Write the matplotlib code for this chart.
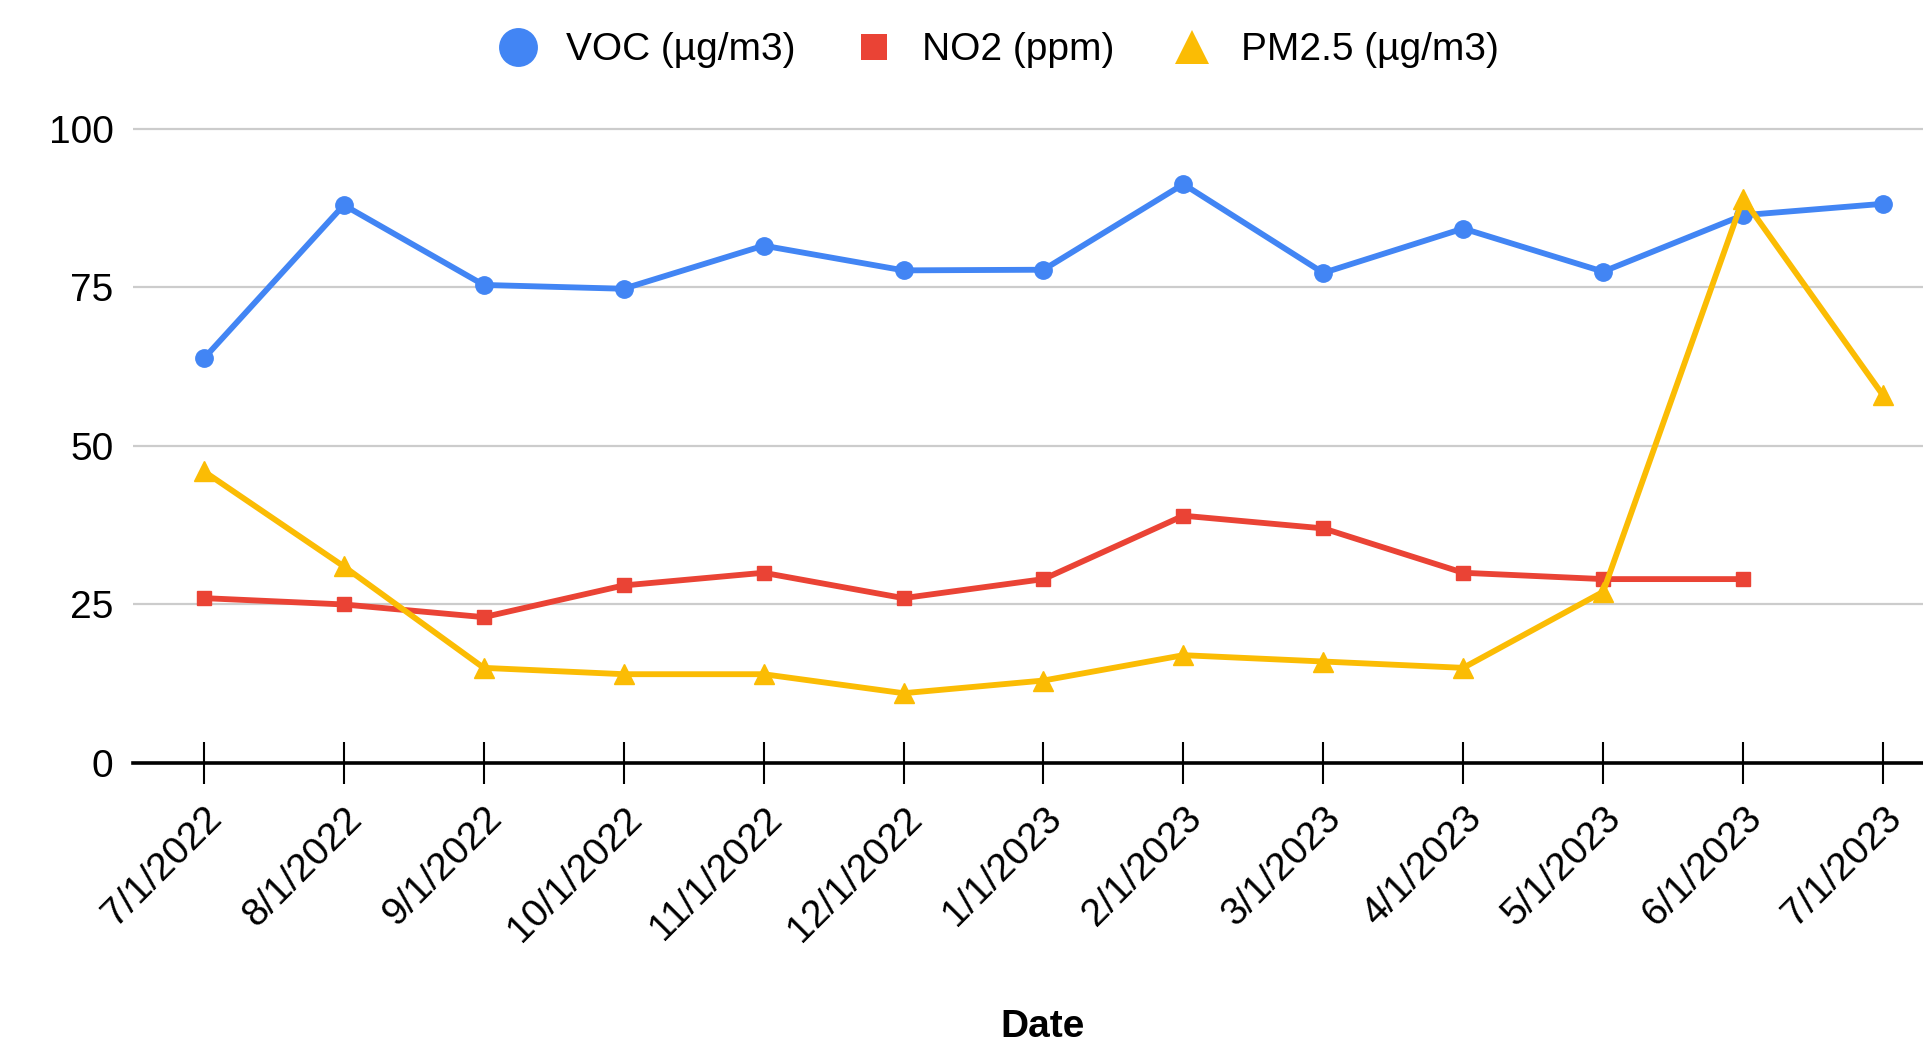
import numpy as np
import matplotlib
matplotlib.use("Agg")
import matplotlib.pyplot as plt
from matplotlib.lines import Line2D

plt.rcParams["font.family"] = ["Liberation Sans", "DejaVu Sans"]

# Datos
fechas = ["7/1/2022", "8/1/2022", "9/1/2022", "10/1/2022", "11/1/2022", "12/1/2022",
          "1/1/2023", "2/1/2023", "3/1/2023", "4/1/2023", "5/1/2023", "6/1/2023", "7/1/2023"]
voc = [63.8, 88.0, 75.4, 74.8, 81.6, 77.7, 77.8, 91.3, 77.3, 84.3, 77.5, 86.4, 88.2]
no2 = [26, 25, 23, 28, 30, 26, 29, 39, 37, 30, 29, 29, np.nan]
pm25 = [46, 31, 15, 14, 14, 11, 13, 17, 16, 15, 27, 89, 58]

series = [
    ("VOC (µg/m3)", voc, "#4285F4", "o", 12.5, 28),
    ("NO2 (ppm)", no2, "#EA4335", "s", 10.5, 19),
    ("PM2.5 (µg/m3)", pm25, "#FBBC04", "^", 14, 24),
]

fig = plt.figure(figsize=(19.24, 10.46), dpi=100)
ax = fig.add_axes([0.0691, 0.2706, 0.9309, 0.6182])

x = np.arange(len(fechas))
for nombre, valores, color, marcador, ms, _ in series:
    ax.plot(x, valores, color=color, marker=marcador, markersize=ms,
            linewidth=4.2, clip_on=False, zorder=3)

ax.set_xlim(-0.507, 12.293)
ax.set_ylim(0, 102)
ax.set_yticks([0, 25, 50, 75, 100])
ax.set_yticklabels(["0", "25", "50", "75", "100"])
for yv in [25, 50, 75, 100]:
    ax.axhline(yv, color="#cccccc", linewidth=1.6, zorder=1)

ax.set_xticks(x)
ax.set_xticklabels(fechas, rotation=45, ha="right", va="top", rotation_mode="anchor")

for lado in ["top", "right", "left"]:
    ax.spines[lado].set_visible(False)
ax.spines["bottom"].set_linewidth(2.6)
ax.spines["bottom"].set_color("black")
ax.spines["bottom"].set_zorder(2)

ax.tick_params(axis="y", length=0, pad=14, labelsize=28)
ax.tick_params(axis="x", direction="inout", length=30, width=1.5, pad=12, labelsize=28)

fig.text(0.542, 0.018, "Date", fontsize=28, fontweight="bold", ha="center", va="center")

handles = [Line2D([], [], linestyle="none", marker=m, markersize=lm, color=c,
                  markeredgewidth=0)
           for _, _, c, m, _, lm in series]
fig.legend(handles, [s[0] for s in series], loc="center", bbox_to_anchor=(0.519, 0.952),
           ncol=3, frameon=False, fontsize=28, handlelength=1.0,
           handletextpad=0.75, columnspacing=1.5)

fig.savefig("out.png", dpi=100)
